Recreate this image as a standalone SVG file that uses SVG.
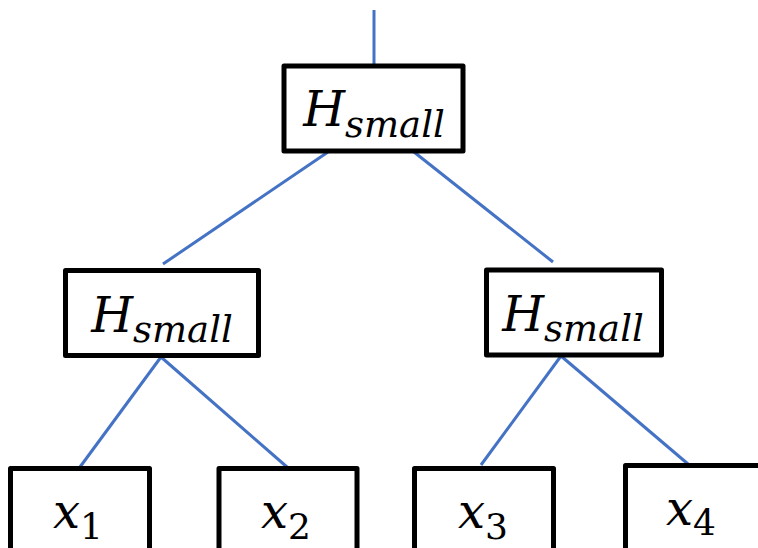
<svg xmlns="http://www.w3.org/2000/svg" width="758" height="548" viewBox="0 0 758 548">
<style>
.box{fill:#fff;stroke:#000;stroke-width:5;stroke-linejoin:round}
.edge{stroke:#4472C4;stroke-width:3;fill:none}
.t{font-family:"DejaVu Serif","Liberation Serif",serif;font-style:italic;font-size:48px;fill:#000;text-anchor:middle}
.s{font-size:37px}
.d{font-style:normal;font-size:36px}
</style>
<g id="connectors">
<line class="edge" x1="374" y1="10" x2="374" y2="66"/>
<line class="edge" x1="328" y1="152" x2="163" y2="264"/>
<line class="edge" x1="414" y1="152" x2="553" y2="262"/>
<line class="edge" x1="161" y1="357" x2="80" y2="467"/>
<line class="edge" x1="161" y1="357" x2="287" y2="467"/>
<line class="edge" x1="561" y1="356" x2="481" y2="465"/>
<line class="edge" x1="561" y1="356" x2="688" y2="464"/>
</g>
<g id="root">
<rect class="box" x="284" y="66" width="179" height="85"/>
<text class="t" x="374" y="126">H<tspan class="s" dy="11">small</tspan></text>
</g>
<g id="left">
<rect class="box" x="65.500" y="270.500" width="193" height="85"/>
<text class="t" x="162" y="332">H<tspan class="s" dy="10">small</tspan></text>
</g>
<g id="right">
<rect class="box" x="486.500" y="270" width="175" height="85"/>
<text class="t" x="573" y="331">H<tspan class="s" dy="10">small</tspan></text>
</g>
<g id="x1">
<rect class="box" x="10.500" y="468.500" width="139" height="100"/>
<text class="t" x="78" y="528">x<tspan class="d" dy="11">1</tspan></text>
</g>
<g id="x2">
<rect class="box" x="219" y="468.500" width="138" height="100"/>
<text class="t" x="286" y="528">x<tspan class="d" dy="11">2</tspan></text>
</g>
<g id="x3">
<rect class="box" x="414.500" y="468.500" width="139" height="100"/>
<text class="t" x="483" y="528">x<tspan class="d" dy="11">3</tspan></text>
</g>
<g id="x4">
<rect class="box" x="625.500" y="465.500" width="160" height="100"/>
<text class="t" x="691" y="525">x<tspan class="d" dy="10">4</tspan></text>
</g>
</svg>
